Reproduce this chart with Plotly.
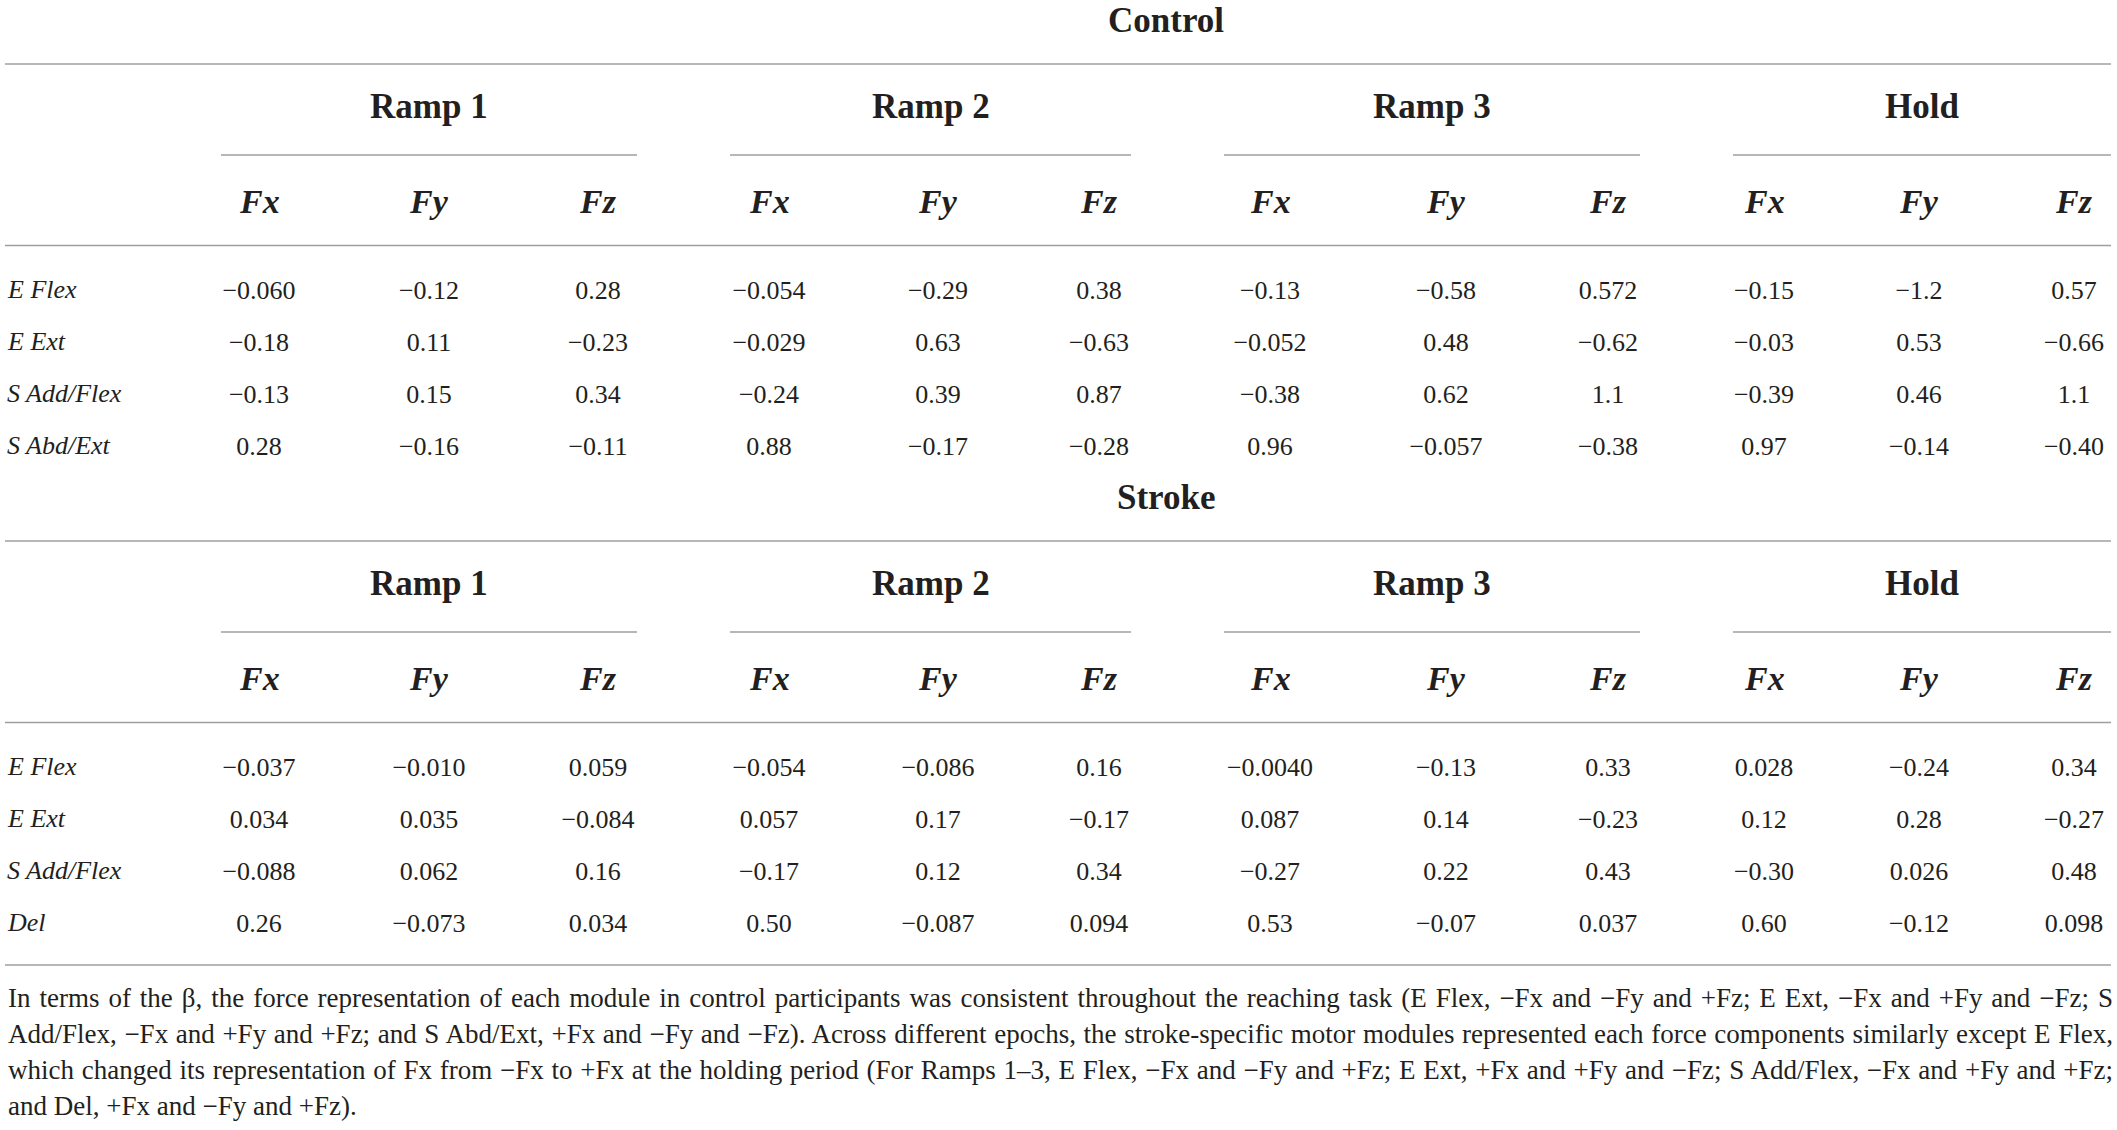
import plotly.graph_objects as go

# ---------------- data ----------------
groups = ["Control", "Stroke"]
phases = ["Ramp 1", "Ramp 2", "Ramp 3", "Hold"]
forces = ["Fx", "Fy", "Fz"]

control_modules = ["E Flex", "E Ext", "S Add/Flex", "S Abd/Ext"]
control_e_flex = ["-0.060", "-0.12", "0.28", "-0.054", "-0.29", "0.38", "-0.13", "-0.58", "0.572", "-0.15", "-1.2", "0.57"]
control_e_ext = ["-0.18", "0.11", "-0.23", "-0.029", "0.63", "-0.63", "-0.052", "0.48", "-0.62", "-0.03", "0.53", "-0.66"]
control_s_add_flex = ["-0.13", "0.15", "0.34", "-0.24", "0.39", "0.87", "-0.38", "0.62", "1.1", "-0.39", "0.46", "1.1"]
control_s_abd_ext = ["0.28", "-0.16", "-0.11", "0.88", "-0.17", "-0.28", "0.96", "-0.057", "-0.38", "0.97", "-0.14", "-0.40"]

stroke_modules = ["E Flex", "E Ext", "S Add/Flex", "Del"]
stroke_e_flex = ["-0.037", "-0.010", "0.059", "-0.054", "-0.086", "0.16", "-0.0040", "-0.13", "0.33", "0.028", "-0.24", "0.34"]
stroke_e_ext = ["0.034", "0.035", "-0.084", "0.057", "0.17", "-0.17", "0.087", "0.14", "-0.23", "0.12", "0.28", "-0.27"]
stroke_s_add_flex = ["-0.088", "0.062", "0.16", "-0.17", "0.12", "0.34", "-0.27", "0.22", "0.43", "-0.30", "0.026", "0.48"]
stroke_del = ["0.26", "-0.073", "0.034", "0.50", "-0.087", "0.094", "0.53", "-0.07", "0.037", "0.60", "-0.12", "0.098"]

footnote_lines = [
    "In terms of the \u03b2, the force representation of each module in control participants was consistent throughout the reaching task (E Flex, \u2212Fx and \u2212Fy and +Fz; E Ext, \u2212Fx and +Fy and \u2212Fz; S",
    "Add/Flex, \u2212Fx and +Fy and +Fz; and S Abd/Ext, +Fx and \u2212Fy and \u2212Fz). Across different epochs, the stroke-specific motor modules represented each force components similarly except E Flex,",
    "which changed its representation of Fx from \u2212Fx to +Fx at the holding period (For Ramps 1\u20133, E Flex, \u2212Fx and \u2212Fy and +Fz; E Ext, +Fx and +Fy and \u2212Fz; S Add/Flex, \u2212Fx and +Fy and +Fz;",
    "and Del, +Fx and \u2212Fy and +Fz).",
]

sections = [
    (groups[0], control_modules, [control_e_flex, control_e_ext, control_s_add_flex, control_s_abd_ext]),
    (groups[1], stroke_modules, [stroke_e_flex, stroke_e_ext, stroke_s_add_flex, stroke_del]),
]

# ---------------- layout geometry (page pixels) ----------------
W, H = 2117, 1130
FONT = "Liberation Serif"
INK = "#231f20"
RULE = "#9f9f9f"

col_x = [259, 429, 598, 769, 938, 1099, 1270, 1446, 1608, 1764, 1919, 2074]
phase_span = [(221, 637), (730, 1131), (1224, 1640), (1733, 2111)]
table_left, table_right = 5, 2111
title_x = 1166
label_x = 5

section_offset = [0, 477]
title_y = 20
top_rule_y = 64
phase_y = 106
phase_rule_y = 155
force_y = 201
head_rule_y = 245.5
row0_y = 292.3
row_step = 52.1
bottom_rule_y = 965
foot_x = 6
foot_y0 = 998
foot_step = 36
foot_width = 2105

fig = go.Figure()
annotations = []
shapes = []


def hline(x0, x1, y, width=1.6):
    shapes.append(dict(type="line", xref="x", yref="y", x0=x0, x1=x1, y0=y, y1=y,
                       line=dict(color=RULE, width=width)))


def label(text, x, y, size, xanchor="center", yshift=0):
    annotations.append(dict(text=text, x=x, y=y, xref="x", yref="y", showarrow=False,
                            xanchor=xanchor, yanchor="middle", align=("left" if xanchor == "left" else "center"),
                            yshift=yshift,
                            font=dict(family=FONT, size=size, color=INK)))


for s, (gname, modules, rows) in enumerate(sections):
    off = section_offset[s]
    label(f"<b>{gname}</b>", title_x, title_y + off, 35)
    hline(table_left, table_right, top_rule_y + off)
    for p, pname in enumerate(phases):
        x0, x1 = phase_span[p]
        label(f"<b>{pname}</b>", (x0 + x1) / 2, phase_y + off, 35)
        hline(x0, x1, phase_rule_y + off)
        for f, fname in enumerate(forces):
            label(f"<b><i>{fname}</i></b>", col_x[p * 3 + f], force_y + off, 34)
    hline(table_left, table_right, head_rule_y + off)

    xs, ys, ts = [], [], []
    for r, (mname, vals) in enumerate(zip(modules, rows)):
        y = row0_y + r * row_step + off
        label(f"<i>{mname}</i>", label_x, y, 26, xanchor="left", yshift=3)
        for c, v in enumerate(vals):
            xs.append(col_x[c])
            ys.append(y)
            ts.append(v.replace("-", "\u2212"))
    fig.add_trace(go.Scatter(x=xs, y=ys, text=ts, mode="text", textposition="middle center",
                             textfont=dict(family=FONT, size=26, color=INK), cliponaxis=False,
                             hoverinfo="skip", showlegend=False, name=gname))

hline(table_left, table_right, bottom_rule_y)

for i, line in enumerate(footnote_lines):
    label(line, foot_x, foot_y0 + i * foot_step, 27, xanchor="left")

fig.update_layout(
    width=W, height=H,
    margin=dict(l=0, r=0, t=0, b=0, pad=0),
    paper_bgcolor="white", plot_bgcolor="white",
    xaxis=dict(range=[0, W], visible=False, fixedrange=True),
    yaxis=dict(range=[H, 0], visible=False, fixedrange=True),
    annotations=annotations, shapes=shapes, showlegend=False,
)

# justify the full footnote lines (as in the reference) via word spacing
justify_js = (
    "document.body.style.margin='0';document.body.style.overflow='hidden';"
    "document.querySelectorAll('text.annotation-text').forEach(function(t){"
    "var s=t.textContent; if(s.length>100){"
    "var n=(s.match(/ /g)||[]).length; var w=t.getComputedTextLength();"
    f"var target={foot_width}; if(w<target&&n>0){{t.style.wordSpacing=((target-w)/n)+'px';}}"
    "}});"
)

fig.write_html("out.html", config={"displayModeBar": False}, post_script=justify_js)
